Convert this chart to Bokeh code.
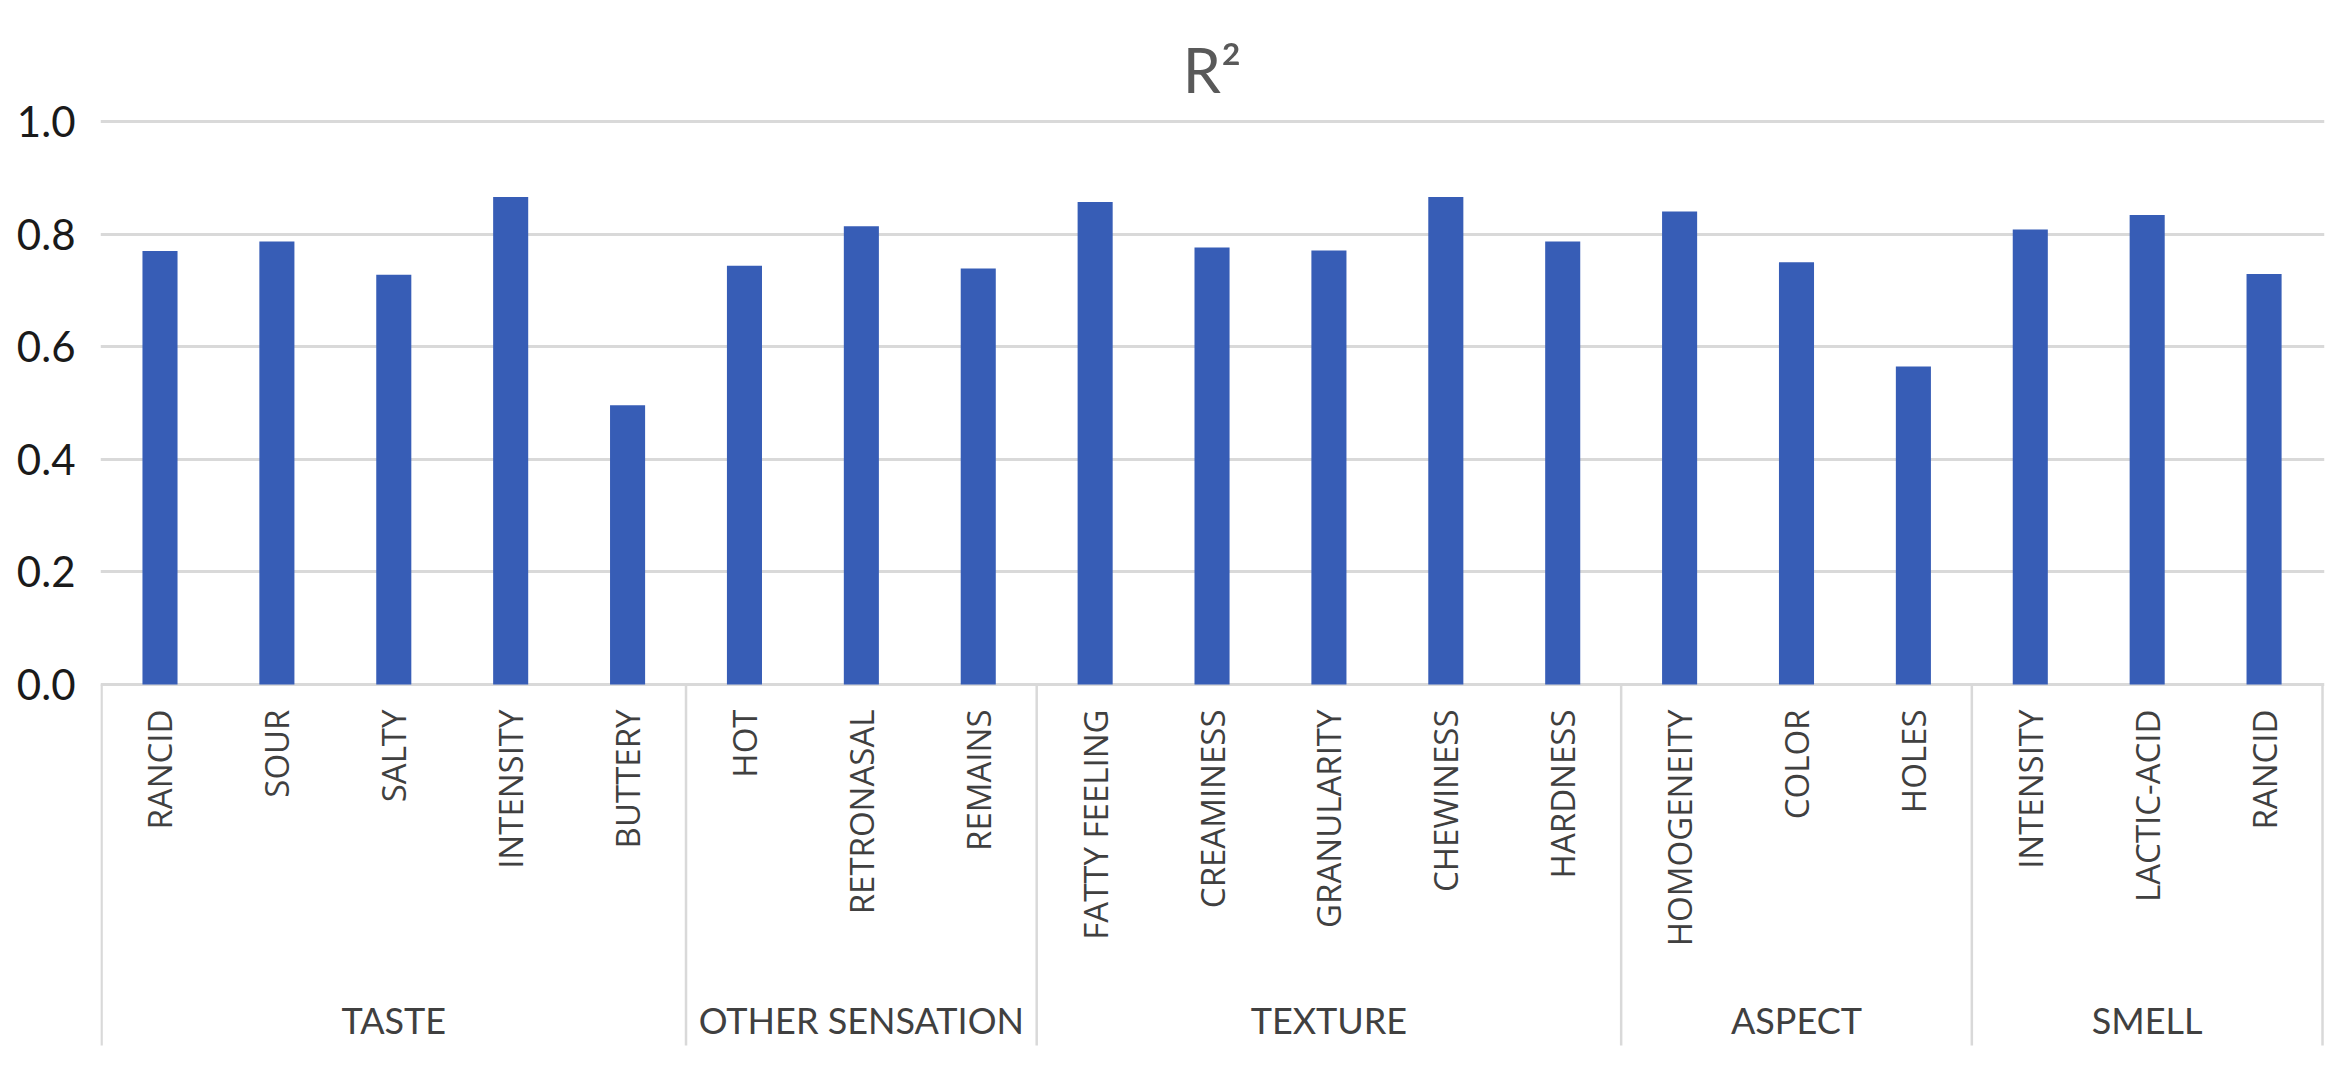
import numpy as np
from bokeh.plotting import figure
from bokeh.models import Range1d, FixedTicker, NumeralTickFormatter, ColumnDataSource, LabelSet, Label
from bokeh.core.properties import value
from bokeh.embed import file_html
from bokeh.resources import INLINE

# ---- data ----
GROUPS = ["TASTE", "OTHER SENSATION", "TEXTURE", "ASPECT", "SMELL"]
GROUP_SIZES = [5, 3, 5, 3, 3]
CATEGORIES = ["RANCID", "SOUR", "SALTY", "INTENSITY", "BUTTERY",
              "HOT", "RETRONASAL", "REMAINS",
              "FATTY FEELING", "CREAMINESS", "GRANULARITY", "CHEWINESS", "HARDNESS",
              "HOMOGENEITY", "COLOR", "HOLES",
              "INTENSITY", "LACTIC-ACID", "RANCID"]
R2 = [0.770, 0.787, 0.728, 0.866, 0.496,
      0.744, 0.814, 0.739,
      0.857, 0.776, 0.771, 0.866, 0.787,
      0.840, 0.750, 0.565,
      0.808, 0.834, 0.729]
Y_TICKS = [0.0, 0.2, 0.4, 0.6, 0.8, 1.0]
TITLE = "R²"

# ---- layout (pixels) ----
W, H = 2344, 1065
LEFT, RIGHT = 100, 20
ZERO_PX = 684          # figure px of y=0
PX_PER_UNIT = 563.0
N = len(CATEGORIES)
PAD_L, PAD_R = 0.009, 0.017
CAT_LABEL_GAP = 25
GROUP_BASELINE = 349
SEP_LEN = 361
TITLE_RISE = 52

GRID_COLOR = "#d9d9d9"
BAR_COLOR = "#375DB6"
TEXT_COLOR = "#404040"

def px(d):
    return d / PX_PER_UNIT

y_start = -(H - ZERO_PX) / PX_PER_UNIT
y_end = ZERO_PX / PX_PER_UNIT

p = figure(width=W, height=H, output_backend="svg", toolbar_location=None,
           title=None, x_axis_location=None,
           x_range=Range1d(-PAD_L, N + PAD_R), y_range=Range1d(y_start, y_end),
           min_border_left=LEFT, min_border_right=RIGHT,
           min_border_top=0, min_border_bottom=0)
p.outline_line_color = None
p.background_fill_color = "white"
p.border_fill_color = "white"
p.xgrid.visible = False

# y axis
p.yaxis.ticker = FixedTicker(ticks=Y_TICKS)
p.yaxis.formatter = NumeralTickFormatter(format="0.0")
p.yaxis.axis_line_color = None
p.yaxis.major_tick_line_color = None
p.yaxis.minor_tick_line_color = None
p.yaxis.major_tick_out = 0
p.yaxis.major_tick_in = 0
p.yaxis.major_label_standoff = 25
p.yaxis.major_label_text_font = "Lato"
p.yaxis.major_label_text_font_size = "42px"
p.yaxis.major_label_text_color = "#1a1a1a"
p.ygrid.grid_line_color = GRID_COLOR
p.ygrid.grid_line_width = 3

xs = np.arange(N) + 0.5

# bars
p.vbar(x=xs, top=R2, bottom=0, width=0.30, fill_color=BAR_COLOR, line_color=None)

# group separators
bounds = np.concatenate([[0], np.cumsum(GROUP_SIZES)])
p.segment(x0=bounds, y0=np.zeros(len(bounds)), x1=bounds,
          y1=np.full(len(bounds), -px(SEP_LEN)),
          line_color=GRID_COLOR, line_width=2.5)

# category labels (vertical)
cat_src = ColumnDataSource(dict(x=xs, y=np.full(N, -px(CAT_LABEL_GAP)), text=CATEGORIES))
p.add_layout(LabelSet(x="x", y="y", text="text", source=cat_src, angle=np.pi / 2,
                      text_align="right", text_baseline="middle",
                      text_font=value("Open Sans"), text_font_size=value("33px"),
                      text_color=value(TEXT_COLOR)))

# group labels
centers = (bounds[:-1] + bounds[1:]) / 2
grp_src = ColumnDataSource(dict(x=centers, y=np.full(len(GROUPS), -px(GROUP_BASELINE)), text=GROUPS))
p.add_layout(LabelSet(x="x", y="y", text="text", source=grp_src,
                      text_align="center", text_baseline="alphabetic",
                      text_font=value("Lato"), text_font_size=value("36px"),
                      text_color=value(TEXT_COLOR)))

# title
p.add_layout(Label(x=N / 2, y=Y_TICKS[-1] + px(TITLE_RISE), text=TITLE,
                   text_align="center", text_baseline="alphabetic",
                   text_font="Lato", text_font_size="61px", text_color="#595959"))

open("out.html", "w").write(file_html(p, INLINE))
